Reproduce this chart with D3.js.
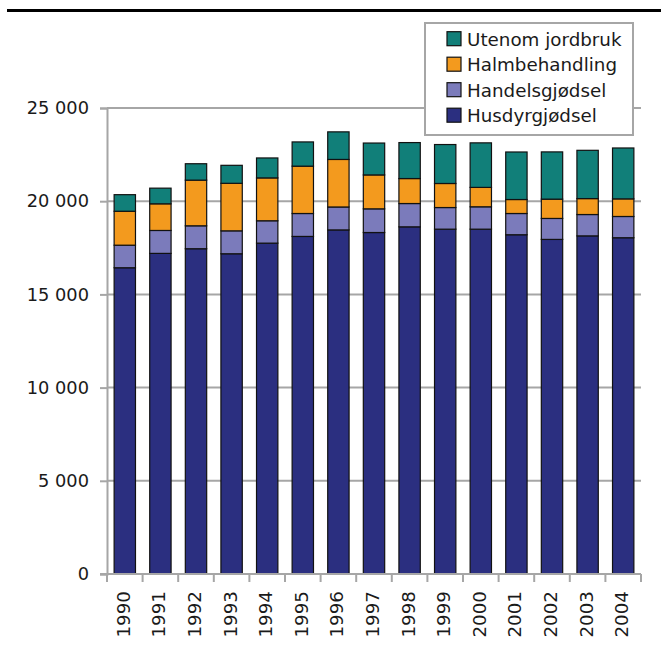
<!DOCTYPE html>
<html>
<head>
<meta charset="utf-8">
<script src="https://cdn.jsdelivr.net/npm/d3@7"></script>
<style>
  html, body { margin: 0; padding: 0; background: #fff; }
  svg { display: block; }
  text { font-family: "DejaVu Sans", sans-serif; fill: #1a1a1a; }
</style>
</head>
<body>
<svg id="chart" width="661" height="649"></svg>
<script>
// Years on the x axis
const years = ["1990","1991","1992","1993","1994","1995","1996","1997","1998","1999","2000","2001","2002","2003","2004"];

// Stacked components (bottom to top)
const husdyrgjodsel   = [16430,17200,17450,17180,17750,18110,18460,18320,18625,18500,18500,18200,17950,18140,18040];
const handelsgjodsel  = [1210, 1230, 1230, 1230, 1200, 1230, 1230, 1270, 1250, 1160, 1200, 1140, 1125, 1145, 1140];
const halmbehandling  = [1820, 1430, 2450, 2550, 2300, 2540, 2550, 1820, 1340, 1290, 1040, 750,  1035, 855,  945];
const utenomJordbruk  = [890,  840,  880,  965,  1070, 1300, 1480, 1710, 1930, 2090, 2390, 2550, 2535, 2590, 2730];

const seriesNames  = ["Husdyrgjødsel","Handelsgjødsel","Halmbehandling","Utenom jordbruk"];
const seriesColors = ["#2b2f80","#7b7bbb","#f39a1e","#117f79"];
const yTicks = [0, 5000, 10000, 15000, 20000, 25000];

const svg = d3.select("#chart");
const margin = { left: 107, right: 20, top: 108, bottom: 75 };
const W = 661, H = 649;

const table = years.map((y, i) => ({
  year: y,
  "Husdyrgjødsel": husdyrgjodsel[i],
  "Handelsgjødsel": handelsgjodsel[i],
  "Halmbehandling": halmbehandling[i],
  "Utenom jordbruk": utenomJordbruk[i]
}));
const stacked = d3.stack().keys(seriesNames)(table);

const x = d3.scaleBand().domain(years)
  .range([margin.left, W - margin.right])
  .paddingInner(0.4).paddingOuter(0.2);
const y = d3.scaleLinear().domain([0, 25000]).range([H - margin.bottom, margin.top]);

const fmt = v => d3.format(",")(v).replace(/,/g, " ");

// Rule under the heading
svg.append("rect").attr("x", 7).attr("y", 9).attr("width", W - 7).attr("height", 3).attr("fill", "#000");

// Horizontal gridlines
svg.append("g").selectAll("line").data(yTicks.filter(d => d > 0)).join("line")
  .attr("x1", margin.left).attr("x2", W - margin.right)
  .attr("y1", d => y(d)).attr("y2", d => y(d))
  .attr("stroke", "#a6a6a6").attr("stroke-width", 2);

// Y axis
const yAxis = svg.append("g").attr("transform", `translate(${margin.left},0)`)
  .call(d3.axisLeft(y).tickValues(yTicks).tickFormat(fmt).tickSize(7).tickPadding(11));
yAxis.select(".domain").attr("stroke", "#a6a6a6").attr("stroke-width", 2);
yAxis.selectAll(".tick line").attr("stroke", "#a6a6a6").attr("stroke-width", 2);
yAxis.selectAll(".tick text").attr("font-size", 17.8).attr("font-family", null).style("fill", "#1a1a1a");

// Bars
svg.append("g").selectAll("g").data(stacked).join("g")
  .attr("fill", (d, i) => seriesColors[i])
  .selectAll("rect").data(d => d).join("rect")
  .attr("x", d => x(d.data.year))
  .attr("width", x.bandwidth())
  .attr("y", d => y(d[1]))
  .attr("height", d => y(d[0]) - y(d[1]))
  .attr("stroke", "#111").attr("stroke-width", 1.2);

// X axis with ticks at category boundaries
const xAxisG = svg.append("g").attr("transform", `translate(0,${H - margin.bottom})`);
xAxisG.append("line").attr("x1", margin.left - 7).attr("x2", W - margin.right)
  .attr("stroke", "#a6a6a6").attr("stroke-width", 2);
const step = x.step();
const bounds = d3.range(years.length + 1).map(i => margin.left + i * step);
xAxisG.selectAll("line.tk").data(bounds).join("line").attr("class", "tk")
  .attr("x1", d => d).attr("x2", d => d).attr("y1", 0).attr("y2", 8)
  .attr("stroke", "#a6a6a6").attr("stroke-width", 2);
xAxisG.selectAll("text").data(years).join("text")
  .attr("transform", d => `translate(${x(d) + x.bandwidth() / 2 + 5},17) rotate(-90)`)
  .attr("text-anchor", "end")
  .attr("font-size", 18.3)
  .text(d => d);

// Legend
const lg = svg.append("g");
lg.append("rect").attr("x", 425).attr("y", 23).attr("width", 208).attr("height", 112)
  .attr("fill", "#fff").attr("stroke", "#a6a6a6").attr("stroke-width", 2);
const order = [3, 2, 1, 0];
order.forEach((si, r) => {
  const base = 45.7 + r * 25.5;
  lg.append("rect").attr("x", 447).attr("y", base - 14).attr("width", 14).attr("height", 14)
    .attr("fill", seriesColors[si]).attr("stroke", "#111").attr("stroke-width", 1.2);
  lg.append("text").attr("x", 467).attr("y", base).attr("font-size", 18.3).text(seriesNames[si]);
});
</script>
</body>
</html>
